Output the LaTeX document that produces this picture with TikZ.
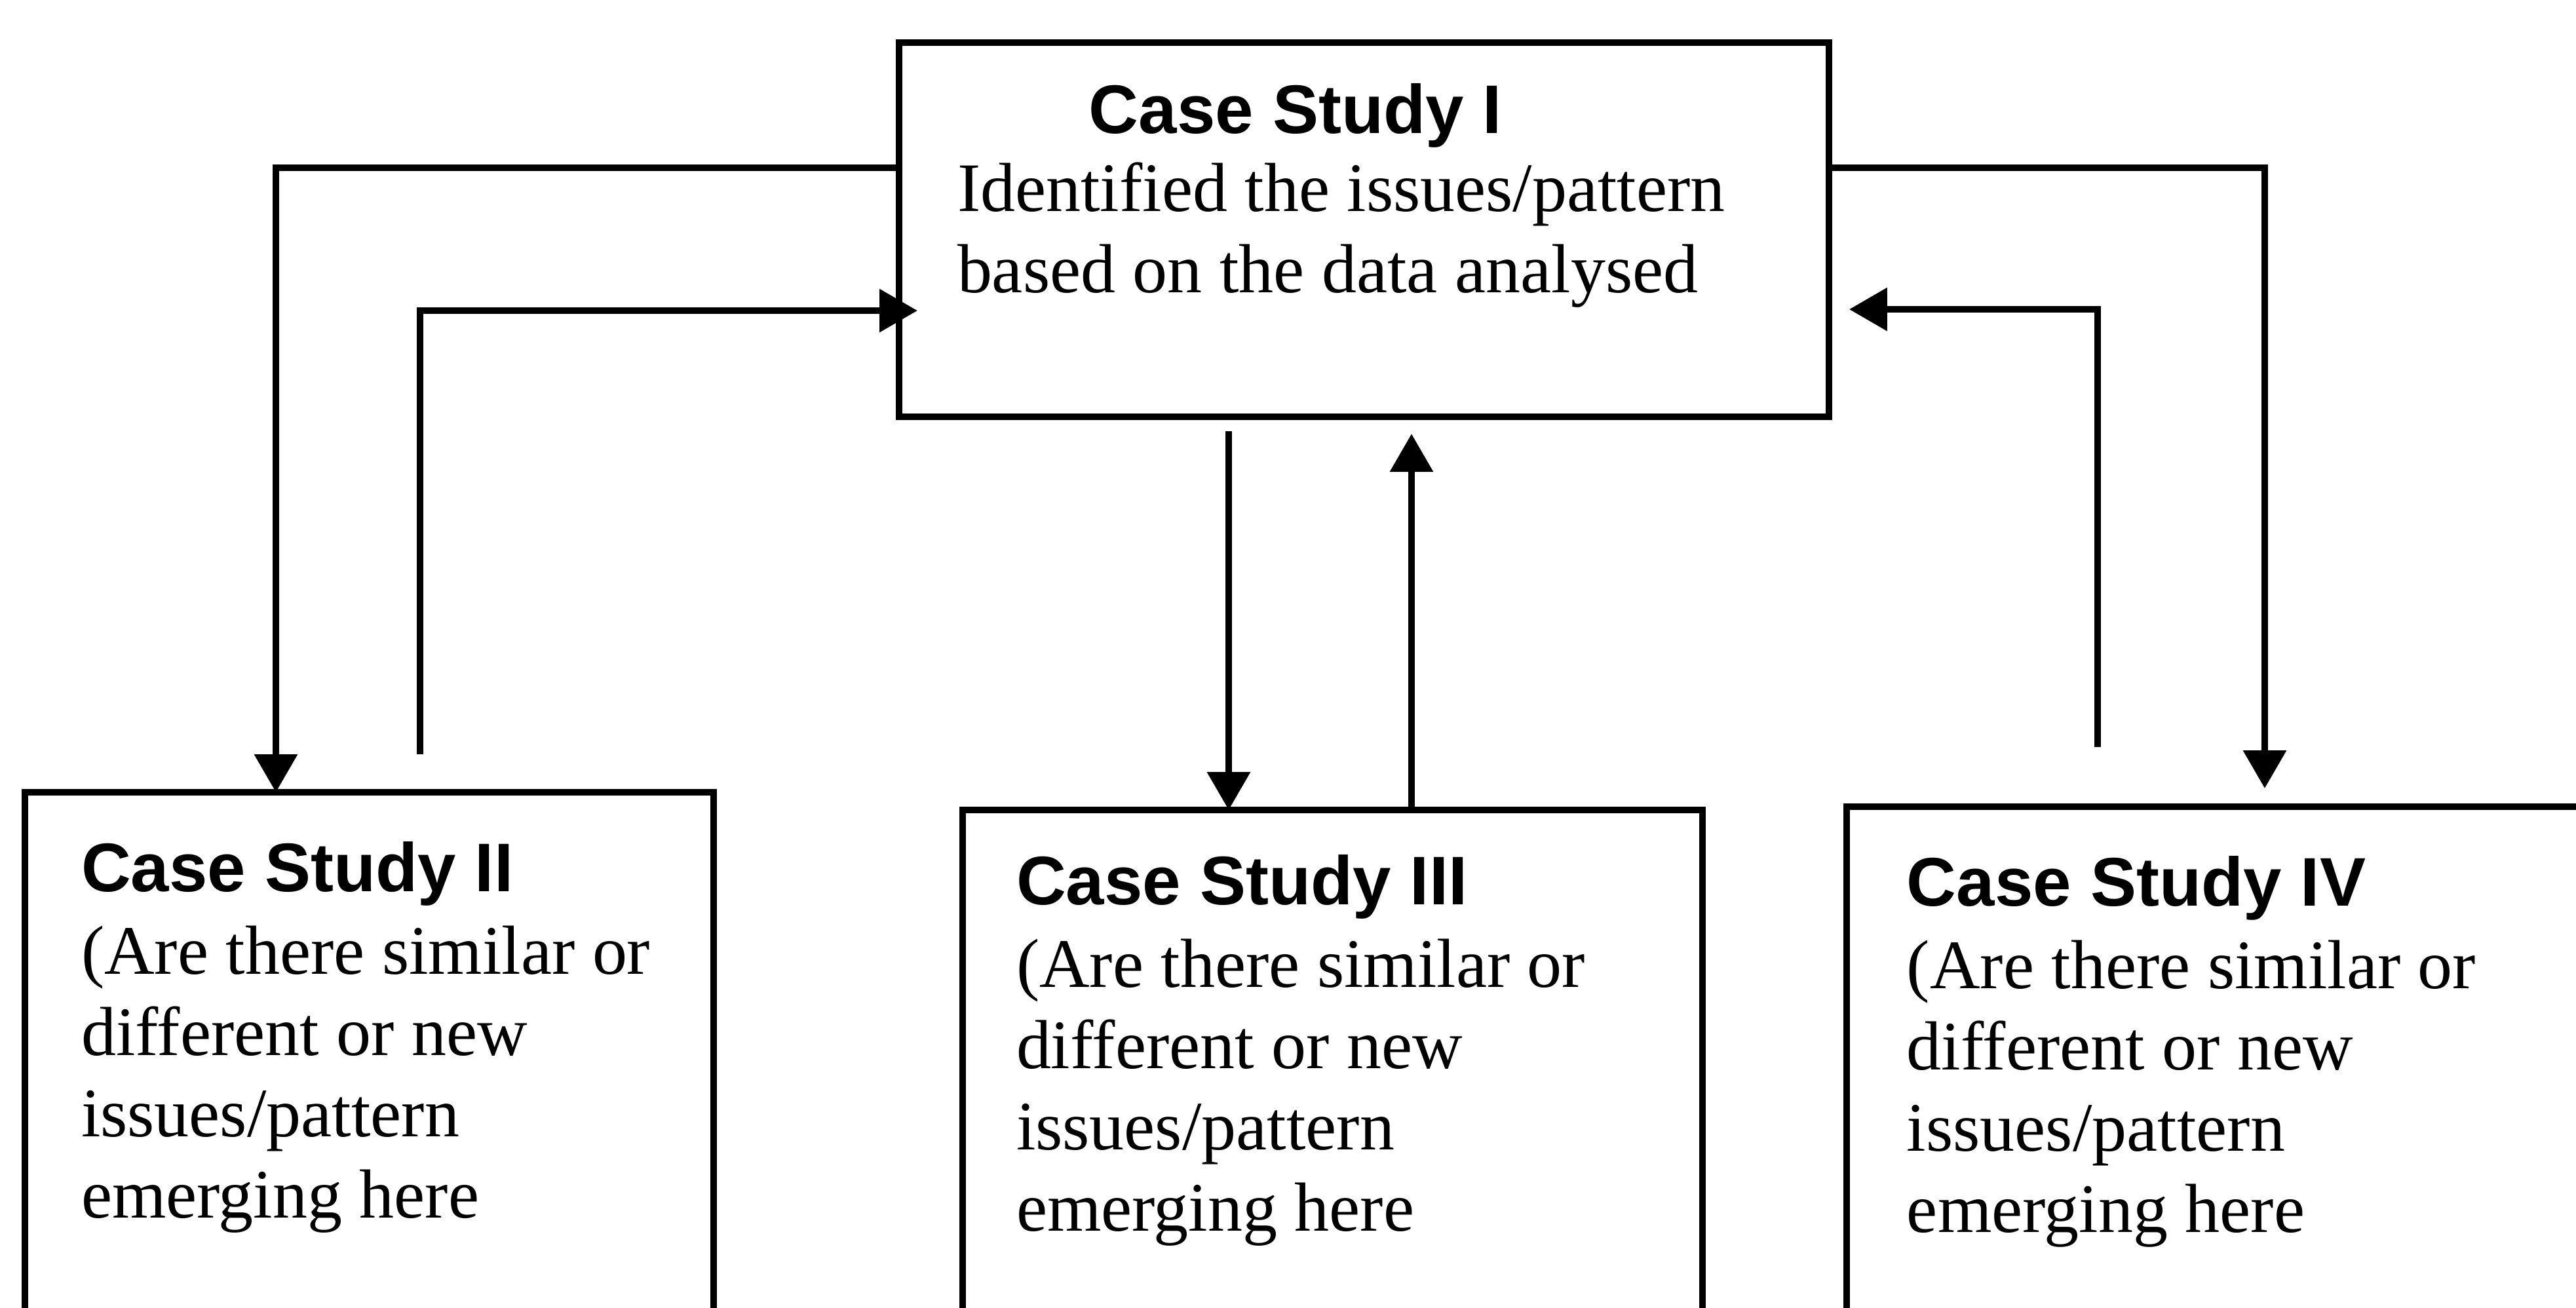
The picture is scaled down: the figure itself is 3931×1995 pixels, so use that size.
\documentclass[tikz,border=0pt]{standalone}
\usepackage{fontspec}
\setmainfont{Liberation Serif}
\setsansfont{Liberation Sans}
\usetikzlibrary{arrows.meta}
\begin{document}
\begin{tikzpicture}[x=0.1pt,y=-0.1pt,
  box/.style={draw,line width=1pt,inner sep=0pt,outer sep=0pt},
  conn/.style={line width=1pt,-{Triangle[length=5.8pt,width=6.4pt]}},
  title/.style={anchor=base west,inner sep=0pt,font=\sffamily\bfseries\fontsize{10.5pt}{12.4pt}\selectfont},
  body/.style={anchor=base west,inner sep=0pt,align=left,font=\fontsize{10.6pt}{12.4pt}\selectfont}]
\clip (0,0) rectangle (3931,1995);
\fill[white] (0,0) rectangle (3931,1995);

% boxes (the lower three run off the bottom edge)
\node[box,minimum width=141.9pt,minimum height=57.1pt] (I) at (2081.5,350.5) {};
\node[box,minimum width=105.1pt,minimum height=83.1pt] (II) at (563.5,1624.5) {};
\node[box,minimum width=112.9pt,minimum height=80.5pt] (III) at (2033.5,1638.5) {};
\node[box,minimum width=117.2pt,minimum height=80.9pt] (IV) at (3404,1635.5) {};

% texts (body nodes are placed by the baseline of their last line)
\node[title] (tI) at (1660,203) {Case Study I};
\node[body] (bI) at (1459,446) {Identified the issues/pattern\\based on the data analysed};

\node[title] (tII) at (122,1360) {Case Study II};
\node[body] (bII) at (122,1858) {(Are there similar or\\different or new\\issues/pattern\\emerging here};

\node[title] (tIII) at (1549,1380) {Case Study III};
\node[body] (bIII) at (1549,1878) {(Are there similar or\\different or new\\issues/pattern\\emerging here};

\node[title] (tIV) at (2908,1382) {Case Study IV};
\node[body] (bIV) at (2908,1880) {(Are there similar or\\different or new\\issues/pattern\\emerging here};

% connector bends and free ends
\coordinate (lo) at (421,256);
\coordinate (li) at (641,474);
\coordinate (liS) at (641,1151);
\coordinate (ro) at (3456,256);
\coordinate (ri) at (3201,472);
\coordinate (riS) at (3201,1140);
\coordinate (md) at (1875,658);
\coordinate (mu) at (2154,662);

% left pair
\draw[conn] (I.west |- lo) -| (lo |- II.north);
\draw[conn] (liS) |- ([xshift=2.8pt]I.west |- li);
% right pair
\draw[conn] (I.east |- ro) -| ([yshift=2.8pt]ro |- IV.north);
\draw[conn] (riS) |- ([xshift=3.1pt]I.east |- ri);
% middle pair
\draw[conn] (md) -- (md |- III.north);
\draw[conn] (mu |- III.north) -- (mu);
\end{tikzpicture}
\end{document}
